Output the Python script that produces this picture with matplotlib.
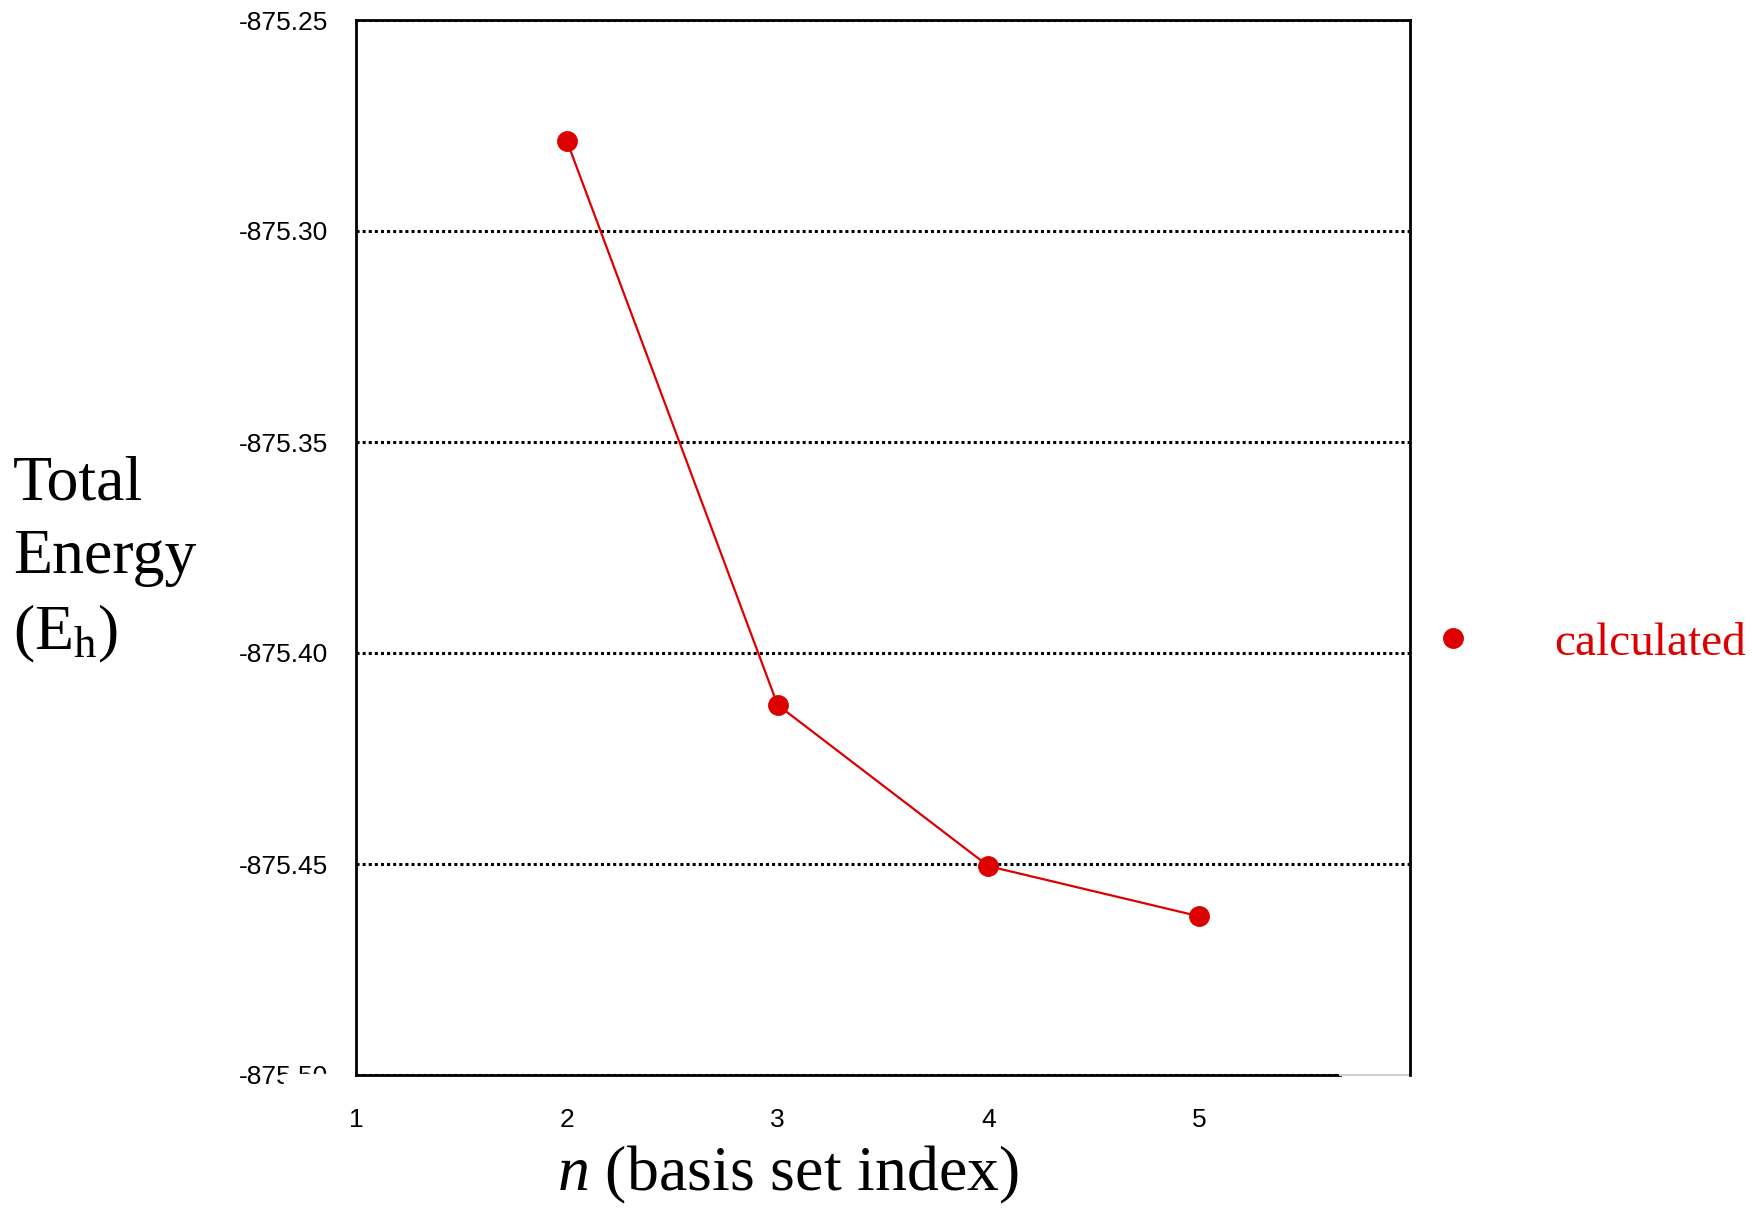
import matplotlib
matplotlib.use("Agg")
import matplotlib.pyplot as plt
from matplotlib.lines import Line2D
from matplotlib.patches import Rectangle

plt.rcParams["mathtext.fontset"] = "custom"
plt.rcParams["mathtext.rm"] = "Liberation Serif"
plt.rcParams["mathtext.it"] = "Liberation Serif:italic"

# data
basis_index = [2, 3, 4, 5]
total_energy = [-875.2786, -875.4123, -875.4505, -875.4624]
y_ticks = [-875.50, -875.45, -875.40, -875.35, -875.30, -875.25]
x_ticks = [1, 2, 3, 4, 5]

red = "#dd0000"
W, H = 1756, 1208

fig = plt.figure(figsize=(W / 100, H / 100), dpi=100)
ax = fig.add_axes([356 / W, 1 - 1075 / H, (1410 - 356) / W, (1075 - 20) / H])

ax.plot(basis_index, total_energy, color=red, lw=1.6, marker="o", ms=14,
        zorder=5, clip_on=False)

ax.set_xlim(1, 6)
ax.set_ylim(-875.50, -875.25)
ax.set_xticks(x_ticks)
ax.set_xticklabels([str(v) for v in x_ticks])
ax.set_yticks(y_ticks)
ax.set_yticklabels(["%.2f" % v for v in y_ticks])
ax.tick_params(length=0, labelsize=19)
ax.tick_params(axis="x", pad=24)
ax.tick_params(axis="y", pad=20)
for lab in ax.get_xticklabels() + ax.get_yticklabels():
    lab.set_fontfamily("Liberation Sans")

# dotted grid lines (bottom one stops short, like the original)
for v in y_ticks:
    xmax = 0.934 if v == y_ticks[0] else 1.0
    ax.axhline(v, xmax=xmax, color="black", lw=2.2, ls=(0, (1.0, 1.0)), zorder=1)

for side in ["top", "left", "right"]:
    ax.spines[side].set_linewidth(2)
    ax.spines[side].set_color("black")
ax.spines["bottom"].set_visible(False)
ax.axhline(-875.50, xmax=0.934, color="black", lw=2, zorder=2, clip_on=False)
ax.axhline(-875.50, xmin=0.934, color="#d0d0d0", lw=1.5, zorder=2, clip_on=False)

# partly hidden bottom tick label
fig.patches.append(Rectangle((284 / W, 1 - 1098 / H), 60 / W, 24 / H,
                             transform=fig.transFigure, color="white", zorder=10))

fig.text(13 / W, 1 - 560 / H, "Total\nEnergy\n(E$_\\mathrm{h}$)", ha="left", va="center",
         fontsize=46, family="Liberation Serif", linespacing=1.35)
fig.text(788 / W, 2 / H, "$n$ (basis set index)", ha="center", va="bottom",
         fontsize=46, family="Liberation Serif")

handle = Line2D([], [], color=red, marker="o", ms=14, ls="none")
leg = fig.legend([handle], ["calculated"], loc="center left",
                 bbox_to_anchor=(1429 / W, 1 - 643 / H), frameon=False,
                 handlelength=1.0, handletextpad=1.65, borderpad=0,
                 borderaxespad=0,
                 prop={"family": "Liberation Serif", "size": 34})
for t in leg.get_texts():
    t.set_color(red)

fig.savefig("out.png", dpi=100)
